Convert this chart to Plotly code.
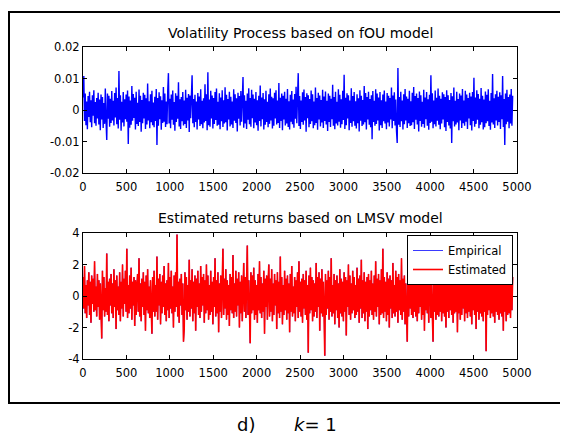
import numpy as np
import plotly.graph_objects as go

# ---------------- data ----------------
# Volatility process (fOU model), values in units of 1e-4
vol_e4 = [
    40, 108, -35, 52, -48, 27, -61, 44, -22, 58, -39, 31, -55, 47, -18, 63, -42, 25, -50, 38,
    -27, 55, -46, 33, -64, 49, -30, 41, -57, 22, -44, 68, -36, -95, 52, -28, 45, -53, 36, -41,
    60, -33, 29, -49, 54, -24, 71, -45, 38, -59, 124, -31, 47, -66, 26, -40, 57, -52, 34, -29,
    49, -37, 62, -108, 43, -56, 30, -47, 76, -34, 51, -25, 39, -62, 58, -44, 23, -51, 65, -38,
    45, -69, 32, -42, 55, -27, 48, -60, 37, -46, 84, -33, 28, -58, 50, -39, 61, -48, 24, -55,
    42, -35, 67, -111, 38, -50, 56, -29, 44, -63, 31, -41, 73, -37, 52, -54, 27, -45, 59, 117,
    -43, 36, -58, 49, -31, 62, -47, 25, -66, 53, -38, 45, -28, 88, -52, 34, -60, 41, -36, 57,
    -49, 30, -44, 64, -57, 39, -33, 51, -70, 46, -26, 59, 110, -42, 35, -55, 48, -38, 27, -62,
    54, -30, 43, -51, 66, -45, 29, -58, 37, -40, 82, -35, 50, -64, 120, -48, 33, -53, 61, -27,
    46, -59, 38, -44, 57, -32, 68, -50, 26, -47, 53, -61, 40, -36, 63, -54, 31, -43, 72, -39,
    48, -65, 35, -30, 58, -52, 42, -46, 27, -57, 66, -34, 50, -41, 37, -68, 55, -28, 44, -49,
    60, -37, 33, 105, -56, 47, -43, 29, -60, 52, -31, 69, -45, 38, -53, 64, -26, 49, -58, 36,
    -40, 57, -48, 31, -66, 45, -35, 78, -52, 40, -29, 54, -62, 34, -47, 61, -38, 26, -55, 50,
    -44, 68, -33, 42, -59, 37, -50, 55, -27, 63, -46, 30, -41, 86, -57, 39, -35, 52, -64, 45,
    -30, 58, -49, 36, -43, 67, -54, 28, -62, 48, -37, 60, -45, 33, -56, 51, -28, 74, -42, 39,
    117, -51, 44, -60, 30, -38, 56, -47, 65, -33, 41, -69, 53, -26, 47, -55, 35, -44, 62, -36,
    50, -58, 27, -48, 71, -41, 38, -63, 55, -30, 46, -52, 32, -40, 64, -57, 43, -35, 59, -46,
    29, -67, 52, -38, 45, -54, 36, -29, 80, -50, 41, -61, 58, -43, 26, -49, 66, -37, 48, -56,
    34, -45, 61, -32, 112, -60, 39, -48, 53, -27, 47, -64, 30, -41, 69, -53, 44, -36, 57, -50,
    28, -59, 50, -42, 37, -68, 63, -34, 45, -51, 32, -46, 76, -39, 54, -62, 41, -30, 58, -47,
    35, -55, 47, -93, 60, -38, 29, -50, 66, -44, 52, -33, 40, -65, 57, -48, 31, -57, 49, -36,
    62, -43, 27, -61, 54, -40, 45, -52, 38, -30, 71, -58, 46, -35, 56, -49, 33, -66, -105, 133,
    -47, 41, -54, 58, -36, 30, -62, 50, -45, 67, -33, 43, -57, 36, -42, 61, -51, 28, -48, 55,
    -39, 73, -60, 44, -31, 52, -46, 38, -68, 59, -35, 47, -53, 26, -44, 64, -56, 40, -29, 57,
    -50, 34, -63, 48, -41, 110, -37, 53, -58, 30, -45, 62, -52, 39, -34, 68, -47, 45, -61, 36,
    -43, 56, -30, 50, -55, 41, -67, 63, -38, 47, -49, 32, -59, 54, -105, 44, -36, 71, -52, 29,
    -46, 58, -40, 35, -64, 52, -33, 46, -57, 67, -42, 30, -50, 61, -37, 49, -60, 38, -27, 55,
    -48, 43, -65, 57, -35, 102, -53, 40, -44, 63, -31, 51, -58, 36, -47, 70, -39, 45, -62, 33,
    -55, 59, -42, 48, -36, 66, -51, 29, -63, 54, -40, 114, -46, 37, -57, 50, -33, 61, -49, 42,
    -38, 56, -60, 47, -29, 108, -54, 35, -111, 52, -45, 64, -37, 41, -58, 49, -43, 67, -50, 45,
]

# Returns (LMSV model)
returns = [
    1.2, -0.8, 1.9, -1.1, 0.7, -1.4, 1.0, -0.6, 1.5, -1.2, 0.9, -1.7, 1.3, -0.5, 1.1, -1.0, 2.2, -0.9, 0.6, -1.3,
    1.4, -0.7, 1.0, -1.5, 0.8, -1.1, -2.7, 1.6, -0.9, 1.2, -1.3, 0.5, -1.0, 2.7, -1.2, 0.9, -1.6, 1.1, -0.6, 1.4,
    -1.1, 0.8, -1.4, 1.7, -0.7, 1.0, -2.1, 1.3, -0.9, 0.6, -1.2, 1.5, -1.6, 0.9, -0.8, 2.0, -1.3, 1.1, -0.5, 1.6,
    -1.0, 3.0, -1.4, 0.7, -1.1, 1.3, -0.8, 1.8, -1.5, 0.9, -0.6, 1.2, -1.9, 1.0, -1.2, 0.6, 1.4, -1.0, 2.4, -1.3,
    0.8, -1.6, 1.1, -0.7, 1.5, -1.2, 0.9, -2.2, 1.3, -0.9, 1.7, -1.1, 0.6, -1.4, 1.0, -0.8, -2.4, 1.2, -1.0, 1.6,
    -1.3, 0.7, -1.0, 2.5, -1.5, 1.1, -0.6, 1.4, -1.8, 0.9, -1.1, 1.3, -0.7, 1.9, -1.2, 0.8, -1.6, 1.0, -0.9, 2.1,
    -1.4, 1.2, -0.8, 1.6, -1.1, 0.6, -2.0, 1.3, -1.0, 1.5, -0.7, 3.9, -1.3, 0.9, -1.7, 1.1, -0.6, 1.4, -1.2, 0.8,
    -2.9, -2.1, 1.5, -0.9, 1.2, -1.5, 0.7, -1.0, 2.3, -1.3, 1.0, -0.8, 1.7, -1.6, 0.9, -1.1, 1.3, -2.2, 1.1, -0.7,
    1.6, -1.2, 0.8, -1.4, 1.9, -1.0, 1.2, -0.6, 1.4, -1.7, 1.0, -1.1, 2.0, -0.9, 1.3, -1.5, 0.7, -1.2, 1.6, -1.0,
    0.9, -1.8, 1.2, -0.7, 2.4, -1.3, 1.0, -1.1, 1.5, -2.3, 0.8, -1.0, 1.3, -1.4, 0.6, 3.0, -1.2, 1.1, -0.8, 1.7,
    -1.5, 1.0, -1.2, 0.7, -1.9, 1.4, -0.9, 1.2, -1.1, 2.6, -1.4, 0.8, -1.0, 1.6, -1.3, 1.1, -0.6, 1.5, -2.0, 0.9,
    -1.1, 1.3, -1.6, 0.8, 2.1, -1.0, 1.2, -1.4, 0.6, 3.2, -1.2, 1.0, -0.8, -3.0, 1.5, -1.1, 1.3, -0.9, 1.8, -1.5,
    1.0, -1.2, 0.7, -1.7, 1.4, -0.9, 2.2, -1.1, 1.2, -1.4, 0.8, -1.0, 1.6, -2.4, 1.1, -0.7, 1.3, -1.5, 0.9, 2.0,
    -1.3, 1.1, -1.0, 1.7, -1.6, 0.8, -1.2, 1.4, -0.6, 1.0, -2.1, 1.5, -1.1, 0.9, -1.4, 2.5, -1.0, 1.2, -1.8, 0.7,
    -1.2, 1.6, -0.9, 1.1, -1.5, 1.3, -1.1, 0.8, -2.3, 1.4, -1.0, 1.9, -1.3, 0.6, -1.1, 1.2, -1.6, 1.0, -0.7, 1.5,
    -1.4, 2.2, -1.0, 0.9, -1.3, 1.1, -1.7, 1.4, -0.8, 1.0, -1.2, 1.6, -1.5, 0.7, -3.6, 1.3, -1.1, 1.8, -0.9, 1.2,
    -1.6, 1.0, -1.3, 0.8, -1.0, 2.1, -1.4, 1.2, -0.7, 1.5, -2.2, 1.1, -1.1, 1.7, -1.3, 0.9, -1.0, -3.8, 1.4, -1.2,
    1.0, -0.8, 1.6, -1.5, 1.2, -1.0, 2.4, -1.3, 0.7, -1.1, 1.4, -1.8, 1.0, -0.9, 1.3, -1.4, 0.8, -2.0, 1.7, -1.1,
    1.1, -1.3, 0.9, -1.6, 1.5, -1.0, 1.2, -2.5, 1.0, -0.7, 2.0, -1.2, 1.3, -1.5, 0.8, -1.1, 1.6, -0.9, 1.2, -1.4,
    0.7, -1.2, 1.8, -1.0, 1.1, -1.7, 1.3, -0.8, 2.3, -1.4, 1.0, -1.1, 1.5, -1.6, 0.9, -1.0, 1.2, -2.1, 1.4, -1.3,
    1.0, -0.9, 1.6, -1.2, 0.8, -1.5, 1.3, -1.0, 2.2, -1.3, 1.1, -0.7, 1.4, -1.8, 1.0, -1.2, 1.7, -1.1, 3.0, -1.4,
    1.2, -1.0, 0.9, -1.6, 1.5, -1.2, 1.1, -2.0, 1.3, -0.8, 1.0, -1.4, 2.1, -1.1, 0.7, -1.3, 1.6, -1.0, 1.2, -1.7,
    1.4, -0.9, 1.0, -1.2, 2.4, -1.5, 1.1, -1.0, 1.3, -1.8, 0.8, -1.1, -2.9, 1.5, -1.3, 1.0, -0.8, 1.7, -1.2, 1.1,
    -1.4, 1.2, -1.0, 1.9, -1.3, 0.9, -1.6, 1.4, -1.1, 2.0, -0.7, 1.3, -1.5, 1.0, -1.2, 1.6, -2.2, 1.1, -0.9, 1.5,
    -1.1, 1.3, -1.7, 0.8, 1.2, -1.4, 1.0, -1.2, -2.9, 1.6, -1.0, 1.1, -1.5, 2.3, -1.2, 0.9, -1.3, 1.4, -1.0, 1.2,
    -1.6, 1.0, -1.1, 1.7, -1.3, 0.8, -2.0, 1.2, -1.0, 1.5, -1.4, 2.2, -0.9, 1.1, -1.2, 1.3, -1.7, 1.0, -1.1, 1.6,
    -1.0, 1.4, -2.3, 1.2, -1.1, 0.9, -1.5, 1.8, -1.2, 1.0, -0.8, 1.3, -1.6, 2.5, -1.1, 1.2, -1.4, 0.7, -1.0, 1.5,
    -1.3, 1.1, -1.8, 1.3, -0.9, 1.6, -1.2, 1.0, -2.1, 1.4, -1.0, 1.2, -1.5, 0.8, -1.1, 2.0, -1.3, 1.1, -1.6, 1.3,
    -1.0, 1.5, -3.5, 1.1, -1.2, 1.7, -0.9, 1.2, -1.4, 1.0, -1.1, 2.4, -1.3, 0.9, -1.7, 1.3, -1.0, 1.6, -1.2, 1.1,
    -1.5, 1.0, -1.1, 1.8, -1.3, 1.2, -2.2, 1.4, -1.0, 0.9, -1.6, 1.3, -1.2, 2.1, -1.1, 1.0, -1.4, 1.5, -0.9, 1.2,
]

last_sample = 4950
x_ticks = [0, 500, 1000, 1500, 2000, 2500, 3000, 3500, 4000, 4500, 5000]
x_ticktext = ["0", "500", "1000", "1500", "2000", "2500", "3000", "3500", "4000", "4500", "5000"]
vol_ticks = [-0.02, -0.01, 0, 0.01, 0.02]
vol_ticktext = ["-0.02", "-0.01", "0", "0.01", "0.02"]
ret_ticks = [-4, -2, 0, 2, 4]
ret_ticktext = ["-4", "-2", "0", "2", "4"]

title_top = "Volatility Process based on fOU model"
title_bottom = "Estimated returns based on LMSV model"

# ---------------- figure ----------------
# the page body has an 8px margin; the figure fills the rest of the 568x434 window
OFF = 8
W, H = 568 - OFF, 434 - OFF
FONT = "DejaVu Sans"

vol = np.array(vol_e4) / 1e4
t_vol = np.linspace(1, last_sample, len(vol))
t_ret = np.linspace(1, last_sample, len(returns))

fig = go.Figure()
fig.add_trace(go.Scatter(x=t_vol, y=vol, mode="lines", line=dict(color="#0000FF", width=1.4),
                         showlegend=False, xaxis="x", yaxis="y", hoverinfo="skip"))
fig.add_trace(go.Scatter(x=t_ret, y=returns, mode="lines", name="Empirical",
                         line=dict(color="#3A3AFF", width=1), xaxis="x2", yaxis="y2", hoverinfo="skip"))
fig.add_trace(go.Scatter(x=t_ret, y=returns, mode="lines", name="Estimated",
                         line=dict(color="#FF0000", width=1.6), xaxis="x2", yaxis="y2", hoverinfo="skip"))


def px_x(p):
    return (p - OFF) / W


def px_y(p):
    return 1 - (p - OFF) / H


axis_common = dict(showline=True, linecolor="black", linewidth=1, mirror="ticks",
                   ticks="inside", ticklen=4, tickcolor="black", tickwidth=1,
                   showgrid=False, zeroline=False, automargin=False,
                   tickfont=dict(family=FONT, size=11.5, color="black"))

xdom = [px_x(83), px_x(517)]
fig.update_layout(
    width=W, height=H,
    margin=dict(l=0, r=0, t=0, b=0, pad=0, autoexpand=False),
    paper_bgcolor="white", plot_bgcolor="white",
    font=dict(family=FONT, color="black"),
    xaxis=dict(domain=xdom, range=[0, 5000], tickvals=x_ticks, ticktext=x_ticktext,
               anchor="y", ticklabelstandoff=3, **axis_common),
    yaxis=dict(domain=[px_y(173), px_y(47)], range=[-0.02, 0.02], tickvals=vol_ticks,
               ticktext=vol_ticktext, anchor="x", **axis_common),
    xaxis2=dict(domain=xdom, range=[0, 5000], tickvals=x_ticks, ticktext=x_ticktext,
                anchor="y2", ticklabelstandoff=3, **axis_common),
    yaxis2=dict(domain=[px_y(359), px_y(233)], range=[-4, 4], tickvals=ret_ticks,
                ticktext=ret_ticktext, anchor="x2", **axis_common),
    legend=dict(x=px_x(513), xanchor="right", y=px_y(235), yanchor="top",
                bgcolor="white", bordercolor="black", borderwidth=1,
                font=dict(family=FONT, size=11.5, color="black"),
                tracegroupgap=0, entrywidth=82, entrywidthmode="pixels"),
    showlegend=True,
)

fig.add_annotation(text=title_top, x=px_x(300), y=px_y(33), xref="paper", yref="paper",
                   showarrow=False, font=dict(family=FONT, size=14, color="black"),
                   xanchor="center", yanchor="middle")
fig.add_annotation(text=title_bottom, x=px_x(300), y=px_y(218), xref="paper", yref="paper",
                   showarrow=False, font=dict(family=FONT, size=14, color="black"),
                   xanchor="center", yanchor="middle")
fig.add_annotation(text="d)", x=px_x(235), y=px_y(424), xref="paper", yref="paper",
                   showarrow=False, font=dict(family=FONT, size=18, color="black"),
                   xanchor="left", yanchor="middle")
fig.add_annotation(text="<i>k</i>= 1", x=px_x(292), y=px_y(424), xref="paper", yref="paper",
                   showarrow=False, font=dict(family=FONT, size=18, color="black"),
                   xanchor="left", yanchor="middle")

fig.add_shape(type="rect", xref="paper", yref="paper",
              x0=px_x(9), x1=px_x(580), y0=px_y(403), y1=px_y(12),
              line=dict(color="black", width=2), fillcolor="rgba(0,0,0,0)", layer="below")

fig.write_html("out.html")
